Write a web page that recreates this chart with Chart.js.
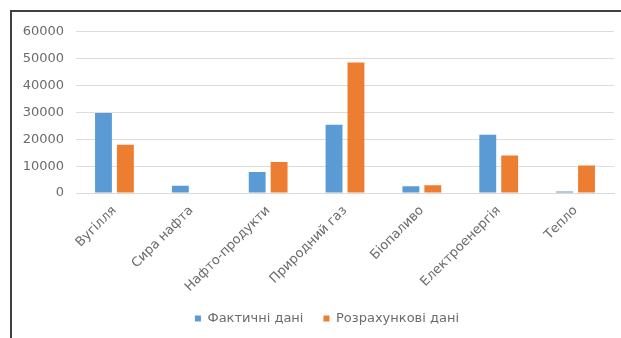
<!DOCTYPE html>
<html>
<head>
<meta charset="utf-8">
<script src="https://cdn.jsdelivr.net/npm/chart.js@4/dist/chart.umd.min.js"></script>
<style>
  html, body { margin: 0; padding: 0; background: #fff; overflow: hidden; }
  #frame {
    position: absolute; left: 10px; top: 10px;
    width: 640px; height: 360px;
    border: 2px solid #404040;
    box-sizing: border-box;
  }
  #wrap { position: absolute; left: 12px; top: 12px; width: 609px; height: 326px; }
</style>
</head>
<body>
<div id="frame"></div>
<div id="wrap"><canvas id="chart"></canvas></div>
<script>
// energy sources on the category axis
const categories = ['Вугілля', 'Сира нафта', 'Нафто-продукти', 'Природний газ', 'Біопаливо', 'Електроенергія', 'Тепло'];
const seriesNames = ['Фактичні дані', 'Розрахункові дані'];
const actualValues = [29800, 2700, 7800, 25400, 2500, 21700, 600];
const estimatedValues = [18000, 0, 11500, 48600, 2850, 14000, 10200];
const yTicks = [0, 10000, 20000, 30000, 40000, 50000, 60000];

const labelFont = { family: 'DejaVu Sans', size: 13 };
const labelColor = '#6b6b6b';

Chart.defaults.font.family = 'DejaVu Sans';
Chart.defaults.color = labelColor;

// nudge the legend a bit to the right of the canvas centre
const legendShift = {
  id: 'legendShift',
  afterLayout(chart) {
    if (chart.legend) {
      chart.legend.left += 14;
      chart.legend.right += 14;
    }
  }
};

const ctx = document.getElementById('chart').getContext('2d');
const chart = new Chart(ctx, {
  type: 'bar',
  data: {
    labels: categories,
    datasets: [
      {
        label: seriesNames[0],
        data: actualValues,
        backgroundColor: '#5B9BD5',
        categoryPercentage: 0.57,
        barPercentage: 0.77
      },
      {
        label: seriesNames[1],
        data: estimatedValues,
        backgroundColor: '#ED7D31',
        categoryPercentage: 0.57,
        barPercentage: 0.77
      }
    ]
  },
  plugins: [legendShift],
  options: {
    responsive: true,
    maintainAspectRatio: false,
    animation: false,
    layout: { padding: { left: 0, right: 7, top: 18, bottom: 3 } },
    plugins: {
      tooltip: { enabled: false },
      legend: {
        position: 'bottom',
        labels: {
          boxWidth: 6,
          boxHeight: 6,
          padding: 20,
          font: labelFont,
          color: labelColor
        }
      }
    },
    scales: {
      x: {
        grid: { display: false, drawTicks: false },
        border: { display: true, color: '#d9d9d9', width: 1 },
        ticks: {
          font: labelFont,
          color: labelColor,
          minRotation: 45,
          maxRotation: 45,
          padding: 10,
          autoSkip: false
        },
        afterFit: (scale) => { scale.height = 99; }
      },
      y: {
        min: 0,
        max: 60000,
        afterBuildTicks: (scale) => { scale.ticks = yTicks.map(v => ({ value: v })); },
        grid: { color: '#dcdcdc', drawTicks: false },
        border: { display: false },
        ticks: {
          font: labelFont,
          color: labelColor,
          padding: 12,
          callback: (value) => String(value)
        },
        afterFit: (scale) => { scale.width = 64; }
      }
    }
  }
});
</script>
</body>
</html>
